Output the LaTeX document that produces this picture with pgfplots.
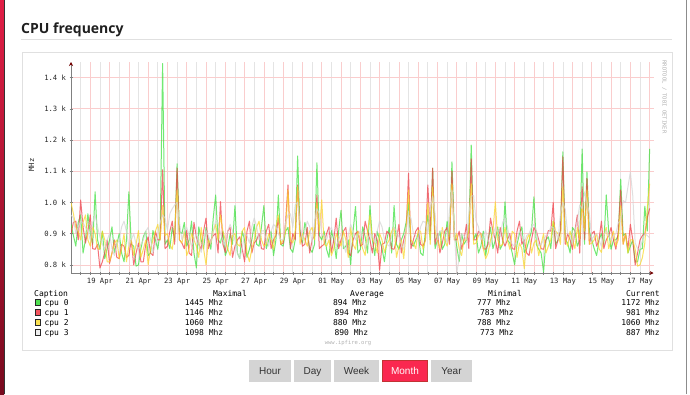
\documentclass[border=0pt]{standalone}
\usepackage{fontspec}
\usepackage{pgfplots}
\pgfplotsset{compat=1.18}
\usepackage{pgfplotstable}
\usetikzlibrary{arrows.meta}
\setmainfont{Liberation Sans}
\newfontfamily\rrd{DejaVu Sans Mono}
\newfontfamily\ttl{Open Sans}
\definecolor{cpuA}{RGB}{60,225,60}
\definecolor{cpuB}{RGB}{240,60,70}
\definecolor{cpuC}{RGB}{250,215,40}
\definecolor{cpuD}{RGB}{212,212,212}
\definecolor{swA}{RGB}{80,225,80}
\definecolor{swB}{RGB}{245,85,95}
\definecolor{swC}{RGB}{250,225,80}
\definecolor{swD}{RGB}{238,238,238}
\definecolor{majgrid}{RGB}{250,205,205}
\definecolor{mingrid}{RGB}{228,228,228}
\definecolor{btn}{RGB}{212,212,212}
\definecolor{btnact}{RGB}{250,40,80}
\definecolor{stripA}{RGB}{225,30,70}
\definecolor{stripB}{RGB}{120,10,30}
\newcommand\tkf{\rrd\fontsize{7.2}{8}\selectfont}
\newcommand\lgf{\rrd\fontsize{8}{9}\selectfont}
\pgfplotstableread{
d c0 c1 c2 c3
-1.000 930 900 1000 960
-0.875 894 936 964 950
-0.750 860 940 920 900
-0.625 936 880 908 922
-0.500 960 1008 880 940
-0.375 838 922 936 936
-0.250 880 870 960 920
-0.125 964 908 880 908
0.000 900 960 860 880
0.125 866 852 922 936
0.250 1034 850 900 960
0.375 880 866 852 922
0.500 850 790 850 890
0.625 908 810 908 866
0.750 820 840 880 850
0.875 852 880 810 880
1.000 880 805 810 900
1.125 922 838 838 852
1.250 840 880 870 830
1.375 866 824 880 866
1.500 900 820 820 880
1.625 838 866 852 922
1.750 810 860 900 940
1.875 880 824 810 908
2.000 1034 830 860 860
2.125 866 880 880 880
2.250 860 800 830 900
2.375 796 838 866 866
2.500 800 870 910 850
2.625 852 810 824 866
2.750 890 810 850 880
2.875 908 866 880 908
3.000 830 890 800 920
3.125 838 838 852 880
3.250 910 830 880 840
3.375 880 908 908 866
3.500 850 880 930 890
3.625 908 880 880 936
3.750 1445 1105 990 960
3.875 866 852 894 950
4.000 880 860 900 910
4.125 852 908 866 964
4.250 920 940 850 980
4.375 880 866 908 992
4.500 1124 1110 1040 1000
4.625 908 880 880 936
4.750 900 870 870 880
4.875 936 852 908 908
5.000 860 910 830 920
5.125 880 838 852 894
5.250 940 830 900 860
5.375 838 936 880 880
5.500 790 890 860 900
5.625 922 866 824 866
5.750 880 850 920 840
5.875 852 908 852 880
6.000 920 950 800 910
6.125 880 852 880 894
6.250 850 880 870 870
6.375 950 894 908 908
6.500 1024 900 930 940
6.625 880 838 880 936
6.750 870 1003 960 900
6.875 908 866 908 880
7.000 830 840 880 860
7.125 852 908 852 908
7.250 900 920 830 930
7.375 866 824 894 908
7.500 990 860 900 880
7.625 838 880 866 838
7.750 820 890 860 820
7.875 908 852 908 852
8.000 880 810 920 900
8.125 824 908 838 894
8.250 850 940 810 870
8.375 880 838 852 922
8.500 930 870 880 950
8.625 866 880 922 922
8.750 860 900 940 880
8.875 922 852 880 908
9.000 990 850 860 910
9.125 852 908 866 880
9.250 880 930 900 860
9.375 908 852 880 908
9.500 830 880 850 930
9.625 880 894 922 922
9.750 1024 950 960 900
9.875 866 866 866 880
10.000 860 870 880 880
10.125 908 936 908 936
10.250 920 1056 1040 960
10.375 852 852 880 964
10.500 840 900 870 920
10.625 880 880 908 992
10.750 1149 1056 1050 1000
10.875 908 908 866 936
11.000 870 860 900 880
11.125 936 866 880 908
11.250 900 920 860 940
11.375 852 838 908 922
11.500 840 880 920 870
11.625 866 894 880 936
11.750 1127 1024 1000 980
11.875 894 852 908 964
12.000 880 860 1008 900
12.125 908 866 866 894
12.250 850 900 860 880
12.375 824 922 880 908
12.500 910 840 830 920
12.625 880 880 852 894
12.750 820 950 900 860
12.875 908 852 880 880
13.000 975 880 860 900
13.125 852 908 908 866
13.250 860 920 880 840
13.375 880 838 824 894
13.500 800 830 920 930
13.625 908 880 866 908
13.750 987 900 850 880
13.875 838 908 908 894
14.000 850 860 880 910
14.125 922 866 852 880
14.250 890 940 830 850
14.375 838 908 908 880
14.500 990 880 960 900
14.625 880 838 880 894
14.750 830 900 870 870
14.875 908 880 838 908
15.000 880 783 900 940
15.125 852 866 880 922
15.250 810 870 840 880
15.375 880 908 866 866
15.500 920 900 880 860
15.625 838 852 908 894
15.750 990 850 920 920
15.875 866 880 824 908
16.000 850 930 860 890
16.125 880 838 880 866
16.250 900 880 820 850
16.375 936 908 908 908
16.500 1000 1094 1040 960
16.625 866 852 880 950
16.750 860 880 870 900
16.875 880 908 852 894
17.000 900 920 910 880
17.125 838 866 908 922
17.250 830 860 850 940
17.375 908 880 880 936
17.500 960 1056 1000 900
17.625 880 908 866 978
17.750 1110 1110 1050 1020
17.875 852 866 908 964
18.000 880 900 880 880
18.125 908 838 852 908
18.250 850 870 920 910
18.375 866 908 880 894
18.500 940 920 860 870
18.625 880 866 908 978
18.750 1130 1100 1060 1040
18.875 908 880 880 908
19.000 860 880 900 773
19.125 810 908 852 824
19.250 900 850 830 900
19.375 866 880 880 894
19.500 880 930 880 880
19.625 908 852 908 964
19.750 1184 1140 1060 1020
19.875 880 880 866 1022
20.000 900 880 870 940
20.125 838 908 894 922
20.250 860 900 900 880
20.375 908 852 852 894
20.500 830 850 820 910
20.625 880 866 838 880
20.750 920 950 880 860
20.875 852 908 908 894
21.000 880 880 1002 920
21.125 922 838 880 908
21.250 850 920 860 890
21.375 866 880 866 936
21.500 1002 860 920 950
21.625 880 880 880 922
21.750 870 900 850 880
21.875 838 852 908 866
22.000 800 850 900 860
22.125 866 908 824 880
22.250 900 940 870 910
22.375 922 866 852 894
22.500 840 880 788 870
22.625 852 838 880 894
22.750 880 830 900 900
22.875 908 880 838 922
23.000 1018 920 870 930
23.125 866 908 880 908
23.250 850 880 830 860
23.375 838 852 866 866
23.500 777 850 900 880
23.625 880 880 838 894
23.750 890 910 860 900
23.875 852 908 880 922
24.000 940 1000 940 920
24.125 866 852 908 908
24.250 880 880 900 880
24.375 908 908 866 964
24.500 1162 1146 1050 1000
24.625 880 866 880 978
24.750 870 900 860 900
24.875 838 880 908 894
25.000 920 850 880 870
25.125 908 908 852 908
25.250 860 960 920 940
25.375 880 838 880 992
25.500 1171 1050 1000 980
25.625 866 880 908 1034
25.750 1098 1077 1040 1000
25.875 908 866 866 964
26.000 880 900 870 880
26.125 852 908 880 894
26.250 830 860 900 900
26.375 880 880 852 880
26.500 900 940 840 860
26.625 866 852 894 894
26.750 1024 880 920 910
26.875 908 894 852 894
27.000 850 920 880 880
27.125 880 880 908 894
27.250 880 850 860 900
27.375 894 908 880 936
27.500 1075 1040 990 940
27.625 894 866 866 1006
27.750 900 900 900 1000
27.875 838 852 838 1050
28.000 860 930 880 1098
28.125 880 880 880 1022
28.250 810 800 850 870
28.375 810 838 796 852
28.500 850 880 800 850
28.625 852 894 824 880
28.750 988 900 870 900
28.875 908 950 978 894
29.000 1172 981 1060 887
}\cpudata
\begin{document}
\begin{tikzpicture}
\begin{scope}[x=1pt,y=-1pt]
\path[use as bounding box, fill=white] (0,0) rectangle (690,394);
\shade[top color=stripA, bottom color=stripB] (0,0) rectangle (4,394);
\fill[black!80] (4,0) rectangle (5.2,394);
\draw[black!45, line width=0.8pt] (686.5,0) -- (686.5,394);
\node[anchor=base west, inner sep=0, font=\ttl\bfseries\fontsize{14}{16}\selectfont, text=black!88] at (21,33) {CPU frequency};
\draw[black!12, line width=1pt] (21,39.5) -- (672,39.5);
\draw[black!12, line width=1pt] (22.5,52.5) rectangle (672,350);
\end{scope}
\begin{axis}[
  at={(71pt,-273pt)}, anchor=south west,
  scale only axis, width=582.5pt, height=211pt,
  xmin=-1, xmax=29.2, ymin=774, ymax=1450,
  axis x line=bottom, axis y line=left,
  axis line style={draw=black!50, line width=0.8pt},
  x axis line style={-{Stealth[length=4pt,width=4pt,color=red!45!black]}},
  y axis line style={-{Stealth[length=4pt,width=4pt,color=red!45!black]}},
  xtick={0.5,2.5,...,28.5},
  xticklabels={19 Apr,21 Apr,23 Apr,25 Apr,27 Apr,29 Apr,01 May,03 May,05 May,07 May,09 May,11 May,13 May,15 May,17 May},
  minor xtick={-0.5,0.5,...,28.5},
  xminorgrids,
  minor grid style={mingrid, line width=0.7pt},
  extra x ticks={0,1,...,29},
  extra x tick labels={},
  extra x tick style={grid=major, major grid style={majgrid, line width=0.7pt}},
  ytick={800,900,...,1400},
  yticklabels={0.8 k,0.9 k,1.0 k,1.1 k,1.2 k,1.3 k,1.4 k},
  ymajorgrids,
  major grid style={majgrid, line width=0.7pt},
  tick style={black!50, line width=0.5pt},
  major tick length=3pt, minor tick length=3pt, tick align=center,
  xticklabel style={font=\tkf, text=black!85},
  yticklabel style={font=\tkf, text=black!85},
  every axis plot/.append style={no marks, line width=1pt, line join=round, opacity=0.72},
]
\addplot[cpuA] table[x=d, y=c0] {\cpudata};
\addplot[cpuB] table[x=d, y=c1] {\cpudata};
\addplot[cpuC] table[x=d, y=c2] {\cpudata};
\addplot[cpuD] table[x=d, y=c3] {\cpudata};
\end{axis}
\begin{scope}[x=1pt,y=-1pt]
\node[rotate=90, font=\tkf, text=black!85] at (31.5,165) {MHz};
\node[rotate=-90, font=\rrd\fontsize{5.5}{6}\selectfont, text=black!30] at (664.5,97) {RRDTOOL / TOBI OETIKER};
\node[font=\rrd\fontsize{5.5}{6}\selectfont, text=black!30] at (348,343) {www.ipfire.org};
% legend header
\node[anchor=base west, inner sep=0, font=\lgf] at (34,296) {Caption};
\node[anchor=base, inner sep=0, font=\lgf] at (230,296) {Maximal};
\node[anchor=base, inner sep=0, font=\lgf] at (367,296) {Average};
\node[anchor=base, inner sep=0, font=\lgf] at (505,296) {Minimal};
\node[anchor=base east, inner sep=0, font=\lgf] at (660,296) {Current};
% rows
\foreach \y/\c/\n/\mx/\av/\avx/\mn/\mnx/\cu in {
  305.7/swA/0/1445/894/367/777/511/1172,
  315.7/swB/1/1146/894/368.5/783/514/981,
  325.7/swC/2/1060/880/367/788/511/1060,
  335.7/swD/3/1098/890/368.5/773/514/887}{
  \filldraw[fill=\c, draw=black!85, line width=0.5pt] (34.8,\y-6.3) rectangle (40.5,\y-0.6);
  \node[anchor=base west, inner sep=0, font=\lgf] at (44.3,\y) {cpu \n};
  \node[anchor=base east, inner sep=0, font=\lgf] at (223.5,\y) {\mx\ Mhz};
  \node[anchor=base east, inner sep=0, font=\lgf] at (\avx,\y) {\av\ Mhz};
  \node[anchor=base east, inner sep=0, font=\lgf] at (\mnx,\y) {\mn\ Mhz};
  \node[anchor=base east, inner sep=0, font=\lgf] at (660,\y) {\cu\ Mhz};
}
% buttons
\foreach \a/\b/\t in {249/291/Hour, 294/331/Day, 334/379/Week, 431/472/Year}{
  \fill[btn] (\a,360) rectangle (\b,382);
  \node[anchor=base, inner sep=0, font=\fontsize{10}{12}\selectfont, text=black!80] at ({(\a+\b)/2},374.6) {\t};
}
\filldraw[fill=btnact, draw=red!70!black!80, line width=0.6pt] (382.3,360.3) rectangle (427.7,381.7);
\node[anchor=base, inner sep=0, font=\fontsize{10}{12}\selectfont, text=white] at (405,374.6) {Month};
\end{scope}
\end{tikzpicture}
\end{document}
